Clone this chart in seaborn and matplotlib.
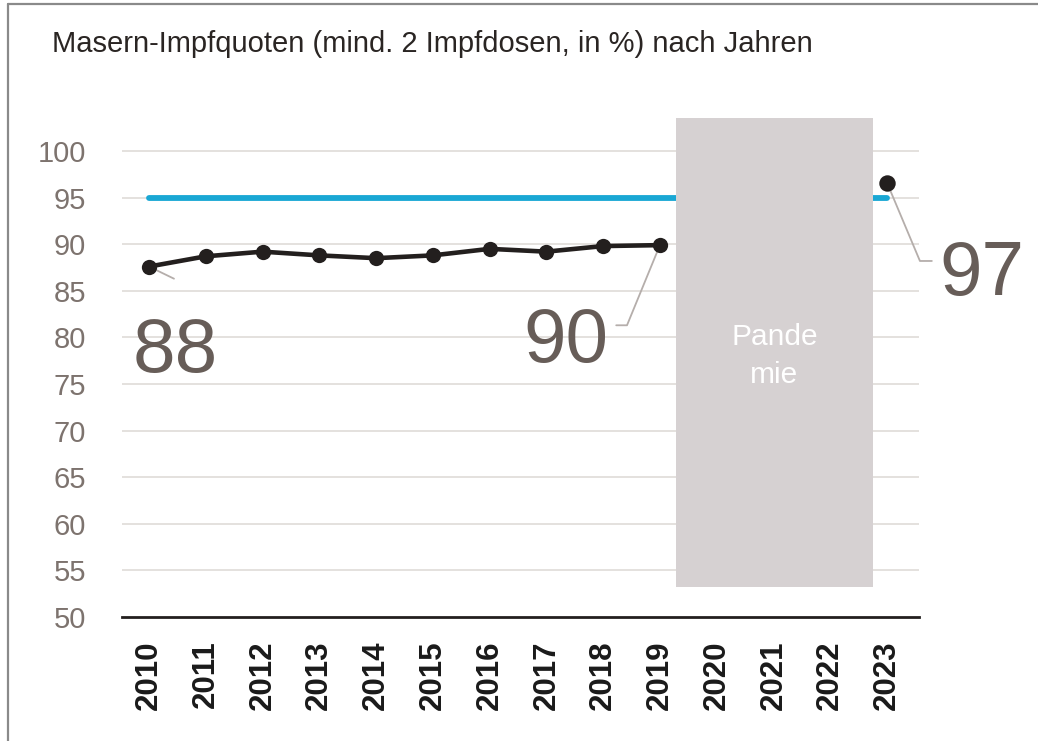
import matplotlib
matplotlib.use("Agg")
import matplotlib.pyplot as plt
import matplotlib.patches as mpatches
import matplotlib.lines as mlines
import seaborn as sns
import pandas as pd

# ---- data ----
years = [2010, 2011, 2012, 2013, 2014, 2015, 2016, 2017, 2018, 2019]
rates = [87.6, 88.7, 89.2, 88.8, 88.5, 88.8, 89.5, 89.2, 89.8, 89.9]
year_2023 = [2023]
rate_2023 = [96.6]
target_years = [2010, 2023]
target_values = [95, 95]
tick_years = list(range(2010, 2024))
y_ticks = [50, 55, 60, 65, 70, 75, 80, 85, 90, 95, 100]
title = "Masern-Impfquoten (mind. 2 Impfdosen, in %) nach Jahren"
pandemic_label = ["Pande", "mie"]
pandemic_span = (2019.28, 2022.75)
pandemic_yspan = (53.2, 103.5)

sns.set_theme(style="white")
plt.rcParams["font.family"] = ["Liberation Sans", "DejaVu Sans"]

W, H = 1038, 741
fig = plt.figure(figsize=(W / 100, H / 100), dpi=100)
ax = fig.add_axes([122 / W, 1 - 617 / H, (919 - 122) / W, (617 - 110) / H])

x0 = 2010 - 27 / 56.77
x1 = 2023 + 32 / 56.77
ax.set_xlim(x0, x1)
ax.set_ylim(50, 50 + (617 - 110) / 9.32)

# grid
for yv in y_ticks[1:]:
    ax.axhline(yv, color="#e2dedb", lw=1.3, zorder=0)

df_main = pd.DataFrame({"Jahr": years, "Quote": rates})
df_tgt = pd.DataFrame({"Jahr": target_years, "Ziel": target_values})
df_23 = pd.DataFrame({"Jahr": year_2023, "Quote": rate_2023})

sns.lineplot(data=df_tgt, x="Jahr", y="Ziel", ax=ax, color="#19a7d4",
             lw=4.2, solid_capstyle="round", zorder=2)
sns.lineplot(data=df_main, x="Jahr", y="Quote", ax=ax, color="#231f1e",
             lw=3.3, marker="o", markersize=11, markeredgewidth=0, zorder=4)
sns.scatterplot(data=df_23, x="Jahr", y="Quote", ax=ax, color="#231f1e",
                s=140, linewidth=0, zorder=4)

# pandemic box
rect = mpatches.Rectangle((pandemic_span[0], pandemic_yspan[0]),
                          pandemic_span[1] - pandemic_span[0],
                          pandemic_yspan[1] - pandemic_yspan[0],
                          facecolor="#d6d1d2", edgecolor="none", zorder=5)
ax.add_patch(rect)
cx = (pandemic_span[0] + pandemic_span[1]) / 2
ax.text(cx, 79.2, pandemic_label[0], ha="center", va="baseline", color="white",
        fontsize=21.5, zorder=6)
ax.text(cx, 75.1, pandemic_label[1], ha="center", va="baseline", color="white",
        fontsize=21.5, zorder=6)

# leader lines and big labels
lc = "#b5aeab"
ax.plot([years[0], 2010.44], [rates[0], 86.3], color=lc, lw=1.3, zorder=3)
ax.plot([years[-1], 2018.42, 2018.23], [rates[-1], 81.3, 81.3], color=lc, lw=1.3, zorder=3)
ax.plot([year_2023[0], 2023.58, 2023.79], [rate_2023[0], 88.2, 88.2], color=lc, lw=1.3,
        zorder=3, clip_on=False)
big = dict(fontsize=55, color="#675d58", ha="center", va="baseline", zorder=6)
ax.text(2010.46, 76.3, f"{round(rates[0])}", **big)
ax.text(2017.35, 77.4, f"{round(rates[-1])}", **big)
ax.text(2024.67, 84.5, f"{round(rate_2023[0])}", clip_on=False, **big)

# axes styling
for s in ["top", "right", "left"]:
    ax.spines[s].set_visible(False)
ax.spines["bottom"].set_color("#231f1e")
ax.spines["bottom"].set_linewidth(2)
ax.set_xticks(tick_years)
ax.set_xticklabels([str(y) for y in tick_years], rotation=90,
                   fontsize=22.5, fontweight="bold", color="#1a1a1a",
                   family=["Liberation Sans Narrow", "Liberation Sans", "DejaVu Sans"])
ax.set_yticks(y_ticks)
ax.set_yticklabels([str(v) for v in y_ticks], fontsize=21, color="#7d736e")
ax.tick_params(axis="x", length=0, pad=17)
ax.tick_params(axis="y", length=0, pad=26)
ax.set_xlabel("")
ax.set_ylabel("")

fig.text(52 / W, 1 - 52 / H, title, fontsize=21, color="#2a2523", ha="left", va="baseline")

# frame lines (left and top)
fig.add_artist(mlines.Line2D([8 / W, 8 / W], [0, 1 - 4 / H], color="#8a8a8a", lw=1.6,
                             transform=fig.transFigure))
fig.add_artist(mlines.Line2D([8 / W, 1], [1 - 4 / H, 1 - 4 / H], color="#8a8a8a", lw=1.6,
                             transform=fig.transFigure))

fig.savefig("out.png", dpi=100, facecolor="white")
